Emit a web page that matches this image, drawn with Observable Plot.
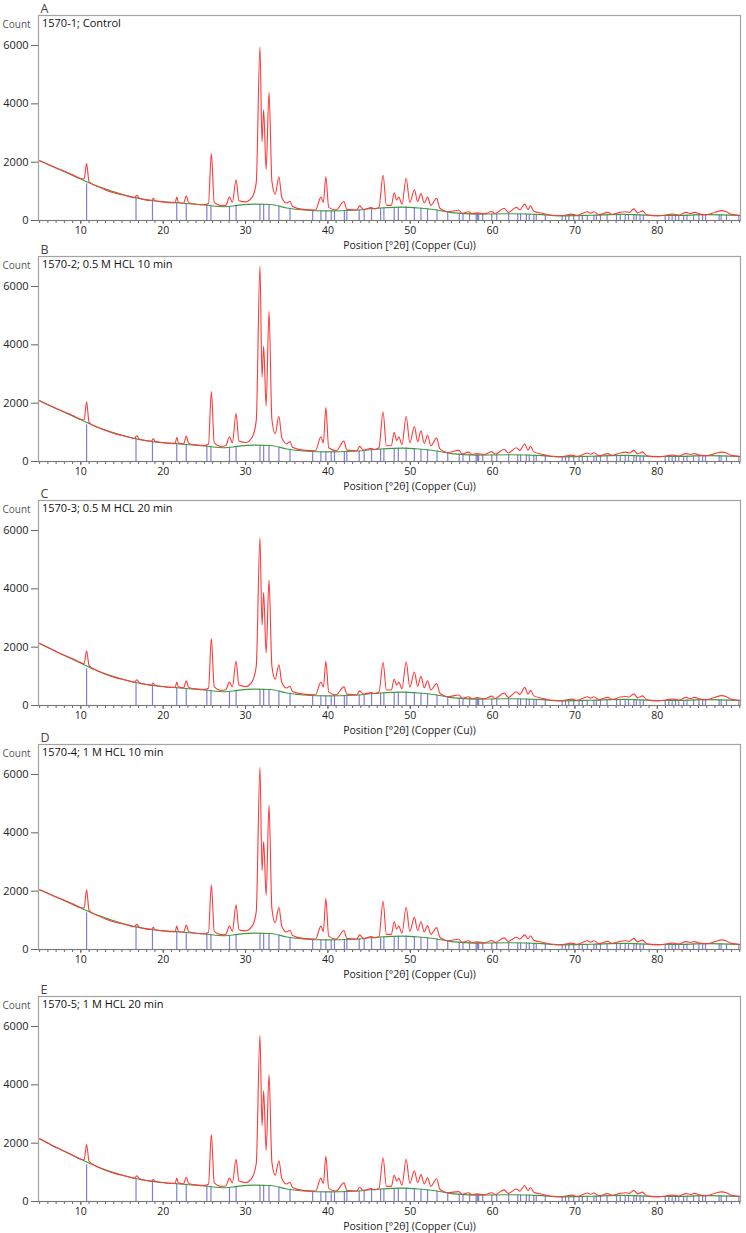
<!DOCTYPE html>
<html>
<head>
<meta charset="utf-8">
<script src="https://cdn.jsdelivr.net/npm/d3@7"></script>
<script src="https://cdn.jsdelivr.net/npm/@observablehq/plot@0.6"></script>
<style>
  html, body { margin: 0; padding: 0; background: #fff; }
  #root { position: relative; width: 746px; height: 1233px; overflow: hidden; }
  #root svg { position: absolute; left: 0; }
</style>
</head>
<body>
<div id="root"></div>
<script>
// ---- Data ----
const panelLetters = ["A", "B", "C", "D", "E"];
const panelTitles = [
  "1570-1; Control",
  "1570-2; 0.5 M HCL 10 min",
  "1570-3; 0.5 M HCL 20 min",
  "1570-4; 1 M HCL 10 min",
  "1570-5; 1 M HCL 20 min"
];
const xTicks = [10, 20, 30, 40, 50, 60, 70, 80];
const yTicks = [0, 2000, 4000, 6000];
const xLabel = "Position [°2θ] (Copper (Cu))";
const yLabel = "Count";

// observed pattern vertices (2θ), shared by all panels
const obsX = [
  5.0, 6.0, 7.0, 8.0, 9.0, 10.0, 10.4, 10.7, 11.0, 12.0,
  13.0, 14.0, 15.0, 16.0, 16.5, 16.8, 17.1, 18.0, 18.6, 18.8,
  19.0, 20.0, 21.0, 21.45, 21.65, 21.85, 22.5, 22.8, 23.1, 24.0,
  25.0, 25.5, 25.85, 26.2, 27.0, 27.6, 28.05, 28.4, 28.85, 29.2,
  30.0, 30.8, 31.3, 31.75, 32.0, 32.2, 32.5, 32.85, 33.2, 33.6,
  34.05, 34.4, 35.0, 35.4, 35.7, 37.0, 38.5, 39.15, 39.45, 39.75,
  40.1, 41.0, 41.95, 42.3, 43.5, 43.85, 44.3, 45.3, 45.6, 46.2,
  46.7, 47.1, 47.7, 48.05, 48.35, 48.6, 49.0, 49.5, 49.95, 50.5,
  50.9, 51.3, 51.7, 52.1, 52.5, 53.2, 53.6, 54.5, 55.9, 56.3,
  57.1, 57.5, 58.1, 59.0, 59.9, 60.3, 61.4, 61.9, 62.9, 63.3,
  63.9, 64.3, 64.6, 65.0, 66.0, 67.0, 68.5, 69.6, 70.3, 71.5,
  71.9, 72.3, 72.9, 74.0, 74.5, 75.5, 76.1, 76.6, 77.15, 77.6,
  78.2, 78.7, 80.0, 81.9, 82.6, 83.5, 84.0, 84.5, 85.2, 86.0,
  87.0, 87.8, 88.4, 89.0, 90.0
];
const obsA = [
  2050,1930,1800,1690,1570,1440,1430,1950,1330,1170,
  1050,950,880,810,780,860,760,700,690,760,
  680,640,610,610,800,620,600,850,610,560,
  540,580,2300,620,510,520,800,620,1400,680,
  640,800,1300,5950,2700,3800,1750,4400,1350,900,
  1500,800,600,660,480,380,360,800,620,1500,
  450,360,650,380,360,500,380,440,400,450,
  1550,520,520,950,700,800,560,1450,620,1050,
  650,920,600,800,520,760,420,300,350,250,
  300,230,260,230,310,240,420,280,450,370,
  560,380,500,320,250,190,170,220,180,300,
  250,300,200,280,210,280,300,280,400,260,
  330,200,160,220,190,280,240,280,220,200,
  280,340,300,210,180
];
const obsB = [
  2080,1950,1820,1700,1580,1450,1430,2050,1340,1170,
  1060,960,890,820,790,880,770,710,700,790,
  690,650,620,620,830,630,610,870,620,570,
  550,590,2400,640,520,540,850,640,1650,700,
  650,830,1400,6700,2900,3950,1900,5150,1450,950,
  1550,820,610,680,490,390,370,850,640,1850,
  470,370,700,390,370,520,390,450,410,470,
  1700,540,540,1000,720,850,580,1550,640,1200,
  680,1050,620,900,540,800,430,310,380,260,
  320,240,270,240,340,250,420,290,470,380,
  600,390,520,330,250,190,170,220,180,290,
  250,300,200,270,210,290,320,290,380,260,
  330,200,160,220,190,270,240,270,220,200,
  270,320,290,210,180
];
const obsC = [
  2130,1990,1850,1720,1600,1470,1440,1880,1370,1190,
  1070,970,900,830,800,880,780,720,700,770,
  690,650,620,620,800,630,610,850,620,570,
  550,590,2300,640,520,540,800,640,1520,700,
  650,820,1350,5750,2750,3870,1800,4300,1350,900,
  1400,800,600,660,480,390,370,800,630,1520,
  460,370,640,390,370,500,390,440,410,460,
  1480,530,530,900,700,800,570,1500,630,1150,
  660,1000,610,850,530,750,420,300,360,250,
  300,230,270,230,320,240,430,280,470,380,
  620,390,520,330,250,190,170,220,180,300,
  250,300,200,280,210,290,310,290,400,260,
  330,200,160,220,190,280,240,280,220,200,
  280,340,300,210,180
];
const obsD = [
  2050,1930,1800,1690,1570,1440,1420,2050,1340,1170,
  1050,950,880,810,780,860,760,700,690,760,
  680,640,610,610,800,620,600,840,610,560,
  540,580,2220,620,510,520,800,620,1530,680,
  640,800,1300,6250,2700,3700,1850,4950,1400,920,
  1450,800,600,660,480,380,360,800,620,1750,
  450,360,650,380,360,500,380,440,400,450,
  1650,520,520,950,700,800,560,1450,620,1100,
  650,950,600,820,520,750,420,300,350,250,
  300,230,260,230,310,240,400,280,420,360,
  500,370,470,320,250,190,170,220,180,300,
  250,300,200,280,210,280,300,280,380,260,
  320,200,160,220,190,270,240,270,220,200,
  270,330,290,210,180
];
const obsE = [
  2150,2000,1850,1720,1590,1450,1430,1950,1380,1190,
  1070,970,900,830,800,880,780,720,700,760,
  690,650,620,620,800,630,610,830,620,570,
  550,590,2300,640,520,530,800,640,1450,700,
  650,820,1300,5700,2600,3800,1750,4350,1350,900,
  1400,800,600,660,480,380,360,800,620,1550,
  450,360,640,380,360,490,380,440,400,450,
  1500,520,520,900,700,800,560,1450,620,1050,
  650,920,600,820,520,780,420,300,340,250,
  300,230,260,230,300,240,400,280,430,360,
  550,370,480,320,250,190,170,220,180,290,
  250,290,200,270,210,280,300,280,380,260,
  320,200,160,220,190,270,240,280,220,200,
  280,330,300,210,180
];

// background curve
const bgX = [5, 7, 10, 12, 15, 17, 19, 22, 25, 27.5, 29, 31, 33, 35, 37, 40, 43, 46, 49, 51, 53, 55, 58, 62, 66, 68, 72, 76, 79, 82, 86, 90];
const bgA = [2050,1800,1420,1180,900,760,670,600,530,470,520,560,550,430,360,330,350,420,460,430,370,270,220,230,200,160,180,210,180,170,200,170];
const bgB = [2080,1820,1430,1180,900,760,670,600,530,470,520,560,550,430,360,330,350,420,460,430,370,270,220,230,200,160,180,210,180,170,200,170];
const bgC = [2130,1850,1450,1190,910,770,680,600,530,470,520,560,550,430,360,330,350,420,460,430,370,270,220,230,200,160,180,210,180,170,200,170];
const bgD = [2050,1800,1420,1180,900,760,670,600,530,470,520,560,550,430,360,330,350,420,460,430,370,270,220,230,200,160,180,210,180,170,200,170];
const bgE = [2150,1860,1450,1190,910,770,680,600,530,470,520,560,550,430,360,330,350,420,460,430,370,270,220,230,200,160,180,210,180,170,200,170];

// reference pattern sticks (position, top)
const stickX = [10.7, 16.7, 18.7, 21.65, 22.8, 25.3, 25.8, 28.05, 28.85, 31.75, 32.2, 32.85, 34.05, 35.4, 38.15, 39.15, 39.75, 40.4, 40.8, 42.0, 42.3, 43.8, 44.4, 45.3, 46.4, 46.8, 48.05, 48.55, 49.5, 50.5, 51.3, 52.1, 53.25, 54.55, 55.95, 56.4, 57.2, 58.0, 58.15, 58.3, 58.8, 59.9, 60.5, 61.95, 63.05, 63.4, 64.1, 64.45, 65.0, 65.3, 66.4, 68.45, 68.85, 69.25, 69.85, 70.5, 70.9, 71.5, 72.3, 72.6, 73.1, 73.9, 75.05, 75.5, 76.1, 76.5, 77.15, 77.45, 77.9, 78.3, 80.95, 81.4, 81.8, 82.2, 82.6, 83.2, 83.6, 84.4, 85.05, 85.5, 85.85, 87.5, 87.75, 88.4, 89.9];
const stickTop = [1260, 770, 680, 610, 590, 530, 520, 480, 510, 560, 560, 550, 490, 420, 340, 335, 330, 330, 330, 340, 340, 360, 370, 400, 420, 430, 450, 455, 460, 440, 420, 400, 360, 290, 250, 240, 230, 220, 220, 220, 220, 225, 225, 230, 225, 225, 220, 215, 210, 210, 195, 165, 165, 165, 170, 170, 175, 175, 180, 185, 190, 195, 200, 205, 210, 205, 200, 200, 190, 185, 170, 170, 170, 170, 175, 180, 185, 190, 195, 195, 200, 195, 190, 185, 170];

// ---- Build ----
const obsSets = [obsA, obsB, obsC, obsD, obsE];
const bgSets = [bgA, bgB, bgC, bgD, bgE];
const svgTops = [0, 241, 485, 729, 981];
const sticks = stickX.map((x, i) => ({x, top: stickTop[i]}));
const minorTicks = d3.range(5, 91);
const root = document.getElementById("root");
const FONT = "'Open Sans', 'Noto Sans', sans-serif";

panelLetters.forEach((letter, p) => {
  const obs = obsX.map((x, i) => ({x, y: obsSets[p][i]}));
  const bg = bgX.map((x, i) => ({x, y: bgSets[p][i]}));
  const chart = Plot.plot({
    width: 746,
    height: 252,
    marginTop: 15,
    marginLeft: 38,
    marginRight: 6,
    marginBottom: 32,
    style: {background: "transparent", fontFamily: FONT, fontSize: "11px", color: "#222", overflow: "visible"},
    x: {domain: [4.86, 90.1], label: null},
    y: {domain: [0, 7030], label: null},
    marks: [
      Plot.frame({stroke: "#a3a3a3", strokeWidth: 1.2}),
      Plot.ruleX(sticks, {x: "x", y1: 0, y2: "top", stroke: "#7f7fd8", strokeWidth: 1.2}),
      Plot.line(bg, {x: "x", y: "y", stroke: "#3e9a3e", strokeWidth: 1.1, curve: "monotone-x"}),
      Plot.line(obs, {x: "x", y: "y", stroke: "#ff3a3a", strokeWidth: 1.1, curve: "monotone-x"}),
      Plot.axisX({ticks: minorTicks, tickSize: 3, tickFormat: () => "", label: null, stroke: "#666"}),
      Plot.axisX({ticks: xTicks, tickSize: 4, tickPadding: 2, tickFormat: "d", label: null, stroke: "#666", fill: "#222", fontSize: 10.5}),
      Plot.axisY({ticks: yTicks, tickSize: 7, tickPadding: 3, tickFormat: "d", label: null, stroke: "#666", fill: "#222"}),
      Plot.ruleY([0], {stroke: "#7a7a7a", strokeWidth: 1.2}),
      Plot.text([letter], {frameAnchor: "top-left", dx: 2, dy: -6.5, lineAnchor: "middle", textAnchor: "start", fontSize: 12.5, fill: "#444"}),
      Plot.text([yLabel], {frameAnchor: "top-left", dx: -36, dy: 9, lineAnchor: "middle", textAnchor: "start", fontSize: 10, fill: "#555"}),
      Plot.text([panelTitles[p]], {frameAnchor: "top-left", dx: 3.5, dy: 8, lineAnchor: "middle", textAnchor: "start", fontSize: 11, fill: "#111"}),
      Plot.text([xLabel], {frameAnchor: "bottom", dx: 20, dy: 25, lineAnchor: "middle", fontSize: 10.5, fill: "#222"})
    ]
  });
  chart.style.top = svgTops[p] + "px";
  root.appendChild(chart);
});
</script>
</body>
</html>
